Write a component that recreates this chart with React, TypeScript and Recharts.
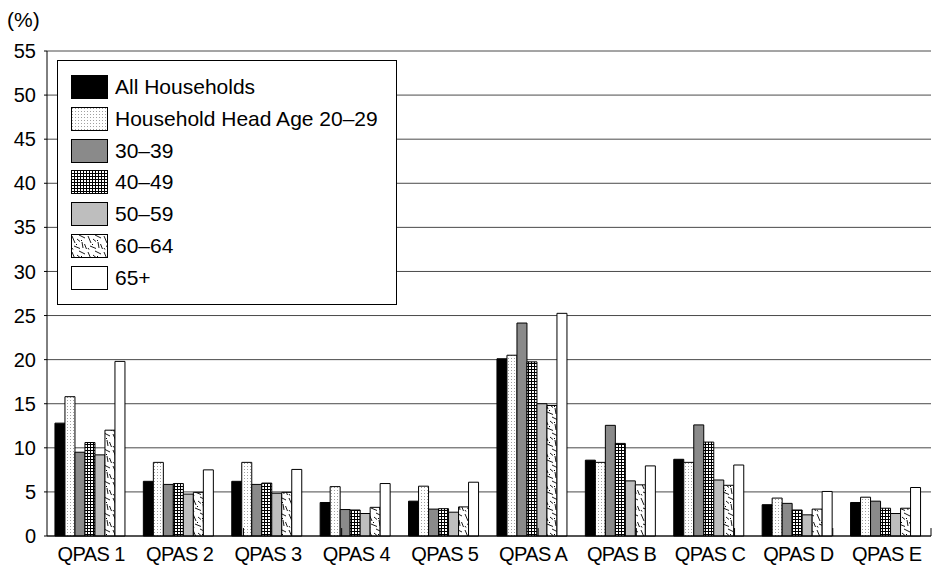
import { Bar, BarChart, CartesianGrid, Legend, ReferenceLine, XAxis, YAxis } from "recharts";

const categories = ["QPAS 1", "QPAS 2", "QPAS 3", "QPAS 4", "QPAS 5", "QPAS A", "QPAS B", "QPAS C", "QPAS D", "QPAS E"];
const allHouseholds = [12.8, 6.2, 6.2, 3.8, 3.95, 20.1, 8.6, 8.7, 3.55, 3.8];
const age20to29 = [15.8, 8.35, 8.35, 5.6, 5.65, 20.5, 8.35, 8.35, 4.3, 4.4];
const age30to39 = [9.5, 5.85, 5.85, 3.0, 3.05, 24.15, 12.55, 12.6, 3.7, 3.95];
const age40to49 = [10.6, 5.95, 6.0, 2.95, 3.1, 19.75, 10.5, 10.65, 2.95, 3.15];
const age50to59 = [9.2, 4.75, 4.85, 2.55, 2.7, 15.0, 6.25, 6.35, 2.4, 2.55];
const age60to64 = [12.0, 4.95, 4.95, 3.25, 3.3, 14.8, 5.8, 5.75, 3.05, 3.15];
const age65plus = [19.8, 7.5, 7.55, 5.95, 6.1, 25.25, 7.95, 8.05, 5.05, 5.5];
const yTicks = [0, 5, 10, 15, 20, 25, 30, 35, 40, 45, 50, 55];
const separators = [1, 2, 3, 4, 5, 6, 7, 8, 9];

const series = [
  { key: "all", name: "All Households", values: allHouseholds, fill: "#000000" },
  { key: "a20", name: "Household Head Age 20\u201329", values: age20to29, fill: "url(#dots)" },
  { key: "a30", name: "30\u201339", values: age30to39, fill: "#8a8a8a" },
  { key: "a40", name: "40\u201349", values: age40to49, fill: "url(#grid)" },
  { key: "a50", name: "50\u201359", values: age50to59, fill: "#bebebe" },
  { key: "a60", name: "60\u201364", values: age60to64, fill: "url(#dashes)" },
  { key: "a65", name: "65+", values: age65plus, fill: "#ffffff" },
];

const data = categories.map((name, i) => {
  const row: Record<string, string | number> = { name };
  series.forEach((s) => (row[s.key] = s.values[i]));
  return row;
});

const FONT = '"Liberation Sans", Arial, sans-serif';

// legend sits inside the plot, over the gridlines, like the printed figure
function LegendBox() {
  return (
    <div
      style={{
        position: "relative",
        width: 338,
        height: 243,
        background: "#fff",
        border: "1px solid #000",
        fontFamily: FONT,
        fontSize: 21,
        color: "#000",
      }}
    >
      {series.map((s, i) => (
        <div key={s.key} style={{ position: "absolute", left: 13, top: 14 + i * 31.8, height: 24, display: "flex", alignItems: "center" }}>
          <svg width={37} height={24} style={{ display: "block" }}>
            <rect x={0.5} y={0.5} width={36} height={23} fill={s.fill} stroke="#000" strokeWidth={1} />
          </svg>
          <span style={{ marginLeft: 7, whiteSpace: "nowrap" }}>{s.name}</span>
        </div>
      ))}
    </div>
  );
}

export default function App() {
  return (
    <div style={{ position: "absolute", left: 0, top: 0, width: 932, height: 567, background: "#fff" }}>
      <div style={{ position: "absolute", left: 7, top: 8, fontFamily: FONT, fontSize: 21, color: "#000" }}>(%)</div>
      <BarChart
        width={932}
        height={567}
        data={data}
        margin={{ top: 51, right: 1, bottom: 0, left: 0 }}
        barGap={0}
        barCategoryGap="9%"
      >
        <defs>
          <pattern id="dots" width={3} height={3} patternUnits="userSpaceOnUse">
            <rect width={3} height={3} fill="#fff" />
            <rect x={1} y={1} width={1} height={1} fill="#a0a0a0" />
          </pattern>
          <pattern id="grid" width={3} height={3} patternUnits="userSpaceOnUse">
            <rect width={3} height={3} fill="#fff" />
            <rect x={0} y={0} width={3} height={1} fill="#000" />
            <rect x={0} y={0} width={1} height={3} fill="#000" />
          </pattern>
          <pattern id="dashes" width={16} height={16} patternUnits="userSpaceOnUse">
            <rect width={16} height={16} fill="#fff" />
            <path
              d="M1 2 L4 9 M8 1 L14 4 M3 12 L9 14.5 M11 8 L12 14 M6 5 L9 7.5 M13.5 10 L15.5 15 M1 14 L2 15.5"
              stroke="#000"
              strokeWidth={0.9}
              fill="none"
            />
            <rect x={10} y={6} width={1} height={1} fill="#000" />
            <rect x={5} y={10} width={1} height={1} fill="#000" />
          </pattern>
        </defs>
        <CartesianGrid horizontal vertical={false} stroke="#4a4a4a" strokeWidth={1} />
        <XAxis
          dataKey="name"
          tickLine={false}
          tickSize={0}
          tickMargin={11}
          height={31}
          axisLine={{ stroke: "#000" }}
          tick={{ fill: "#000", fontSize: 20, fontFamily: FONT, letterSpacing: -0.6 }}
          interval={0}
        />
        <XAxis xAxisId="sep" type="number" domain={[0, 10]} hide />
        <YAxis
          domain={[0, 55]}
          ticks={yTicks}
          width={47}
          tickSize={3}
          tickMargin={8}
          axisLine={{ stroke: "#000" }}
          tickLine={{ stroke: "#000" }}
          tick={{ fill: "#000", fontSize: 20, fontFamily: FONT }}
          interval={0}
        />
        {series.map((s) => (
          <Bar key={s.key} dataKey={s.key} name={s.name} fill={s.fill} stroke="#000" strokeWidth={1} isAnimationActive={false} />
        ))}
        {separators.map((x) => (
          <ReferenceLine
            key={x}
            xAxisId="sep"
            segment={[
              { x, y: 0 },
              { x, y: 0.9 },
            ]}
            stroke="#000"
            strokeWidth={1}
          />
        ))}
        <Legend
          layout="vertical"
          align="center"
          verticalAlign="middle"
          content={() => <LegendBox />}
          wrapperStyle={{ left: 57, top: 60, width: 340, height: 245 }}
        />
      </BarChart>
    </div>
  );
}
